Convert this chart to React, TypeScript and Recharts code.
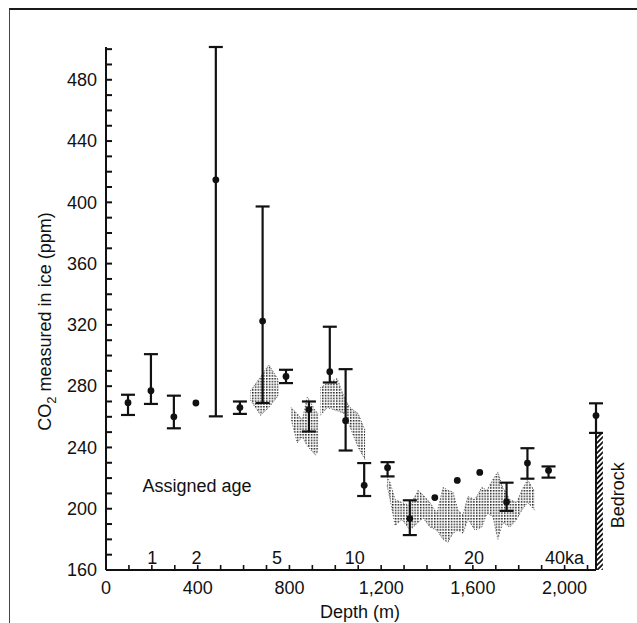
import {
  Area,
  ComposedChart,
  ErrorBar,
  ReferenceArea,
  ReferenceDot,
  ReferenceLine,
  Scatter,
  XAxis,
  YAxis,
} from "recharts";

// depth (m) of each ice sample, CO2 (ppm) and error bar ends
const pointDepth = [96, 196, 296, 392, 479, 584, 683, 785, 885, 976, 1045, 1126, 1228, 1325, 1434, 1532, 1630, 1747, 1838, 1930, 2137];
const pointCO2 = [269.2, 277, 260, 269, 414.7, 266, 322.5, 286.3, 264.7, 289.4, 257.5, 215.3, 226.8, 193.6, 207.3, 218.5, 223.7, 204.4, 229.8, 225, 260.8];
const errHigh = [274.4, 300.9, 273.8, null, 501.4, 270, 397.3, 290.7, 270, 318.8, 291.1, 229.8, 230.4, 205.5, null, null, null, 217, 239.5, 227.6, 268.8];
const errLow = [261.2, 268.4, 252.5, null, 260.3, 261.9, 269, 282, 250.4, 282.4, 238, 208.3, 221.1, 182.8, null, null, null, 198.6, 219.6, 220.3, 249.5];

// stippled band: [depth, low, high]
const bandA = [[630, 271, 277], [674, 261, 286], [710, 266, 294], [752, 274, 284]];
const bandB = [[808, 258, 266], [834, 243, 262], [856, 247, 258], [878, 241, 273], [913, 235, 264], [926, 238, 262]];
const bandC = [[935, 261, 279], [965, 266, 282], [1008, 264, 285], [1043, 262, 271], [1065, 253, 266], [1100, 240, 262], [1130, 232, 251]];
const bandD = [
  [1226, 215, 221], [1239, 206, 217], [1261, 189, 206], [1291, 193, 204], [1326, 186, 202],
  [1361, 191, 212], [1383, 194, 209], [1413, 188, 204], [1443, 186, 197], [1470, 180, 214],
  [1491, 178, 212], [1513, 184, 211], [1535, 186, 199], [1557, 184, 196], [1578, 193, 208],
  [1609, 186, 206], [1639, 188, 214], [1661, 197, 212], [1687, 195, 219], [1709, 180, 224],
  [1730, 191, 214], [1761, 188, 206], [1791, 193, 204], [1813, 199, 212], [1839, 204, 219],
  [1870, 199, 211],
];

const depthTicks = [0, 100, 200, 300, 400, 500, 600, 700, 800, 900, 1000, 1100, 1200, 1300, 1400, 1500, 1600, 1700, 1800, 1900, 2000, 2100];
const co2Ticks = [160, 170, 180, 190, 200, 210, 220, 230, 240, 250, 260, 270, 280, 290, 300, 310, 320, 330, 340, 350, 360, 370, 380, 390, 400, 410, 420, 430, 440, 450, 460, 470, 480, 490, 500];

const annotDepth = [202, 395, 746, 1085, 1605, 2000, 397];
const annotCO2 = [168, 168, 168, 168, 168, 168, 215.3];
const annotText = ["1", "2", "5", "10", "20", "40ka", "Assigned age"];

const bedrockDepth = 2137;
const bedrockTop = 250;
const bedrockLabelAt = { depth: 2232, co2: 208.8 };

const FONT = "'Liberation Sans', Arial, Helvetica, sans-serif";
const INK = "#111";

const points = pointDepth.map((depth, i) => ({
  depth,
  y: pointCO2[i],
  err: errHigh[i] == null ? null : [pointCO2[i] - (errLow[i] as number), (errHigh[i] as number) - pointCO2[i]],
}));
const toBand = (seg: number[][]) => seg.map(([depth, lo, hi]) => ({ depth, range: [lo, hi] }));
const annotations = annotDepth.map((depth, i) => ({ depth, y: annotCO2[i], label: annotText[i] }));

const DepthTick = ({ x, y, payload }: any) => {
  const v = payload.value as number;
  return (
    <g>
      <line x1={x} x2={x} y1={y} y2={y - 5} stroke={INK} strokeWidth={1.6} />
      {v % 400 === 0 && (
        <text x={x} y={y + 24} textAnchor="middle" fontSize={18} fontFamily={FONT} fill={INK}>
          {v.toLocaleString("en-US")}
        </text>
      )}
    </g>
  );
};

const CO2Tick = ({ x, y, payload }: any) => {
  const v = payload.value as number;
  return (
    <g>
      <line x1={x} x2={x + 6} y1={y} y2={y} stroke={INK} strokeWidth={2} />
      {v % 40 === 0 && v <= 480 && (
        <text x={x - 9} y={y} dy="0.35em" textAnchor="end" fontSize={18} fontFamily={FONT} fill={INK}>
          {v}
        </text>
      )}
    </g>
  );
};

const YTitle = ({ viewBox }: any) => {
  const cx = viewBox.x + viewBox.width - 61;
  const cy = viewBox.y + viewBox.height / 2 + 13;
  return (
    <text x={cx} y={cy} textAnchor="middle" fontSize={18} fontFamily={FONT} fill={INK} transform={`rotate(-90 ${cx} ${cy})`} dy="0.35em">
      CO<tspan fontSize={13} dy={5}>2</tspan>
      <tspan dy={-5}> measured in ice (ppm)</tspan>
    </text>
  );
};

const XTitle = ({ viewBox }: any) => (
  <text x={viewBox.x + 254} y={viewBox.y + 48} textAnchor="middle" fontSize={18} fontFamily={FONT} fill={INK}>
    Depth (m)
  </text>
);

const Dot = ({ cx, cy }: any) => <circle cx={cx} cy={cy} r={3.4} fill={INK} />;

const Annotation = ({ cx, cy, payload }: any) => (
  <text x={cx} y={cy} dy="0.35em" textAnchor="middle" fontSize={18} fontFamily={FONT} fill={INK}>
    {payload.label}
  </text>
);

const BedrockLabel = ({ cx, cy }: any) => (
  <text
    x={cx}
    y={cy}
    dy="0.35em"
    textAnchor="middle"
    fontSize={18}
    fontFamily={FONT}
    fill={INK}
    transform={`rotate(-90 ${cx} ${cy})`}
  >
    Bedrock
  </text>
);

export default function App() {
  return (
    <div style={{ position: "absolute", left: 0, top: 0, width: 637, height: 623, overflow: "hidden", background: "#fff" }}>
      <div
        style={{
          position: "absolute",
          left: 9,
          top: 8,
          width: 700,
          height: 700,
          borderTop: "2px solid #1a1a1a",
          borderLeft: "1px solid #444",
        }}
      />
      <div style={{ position: "absolute", left: 0, top: 0 }}>
        <ComposedChart width={637} height={623} margin={{ top: 47, right: 41, bottom: 0, left: 46 }}>
          <defs>
            <pattern id="stipple" width="2.8" height="2.8" patternUnits="userSpaceOnUse">
              <rect x="0" y="0" width="1.5" height="1.5" fill="#1a1a1a" />
            </pattern>
            <pattern id="hatch" width="3.6" height="3.6" patternUnits="userSpaceOnUse" patternTransform="rotate(45)">
              <rect x="0" y="0" width="1.8" height="3.6" fill={INK} />
            </pattern>
          </defs>
          <XAxis
            dataKey="depth"
            type="number"
            domain={[0, bedrockDepth]}
            ticks={depthTicks}
            interval={0}
            height={53}
            tickSize={0}
            tickMargin={0}
            tickLine={false}
            tick={<DepthTick />}
            axisLine={{ stroke: INK, strokeWidth: 2 }}
            label={<XTitle />}
          />
          <YAxis
            dataKey="y"
            type="number"
            domain={[160, 500]}
            ticks={co2Ticks}
            interval={0}
            width={60}
            tickSize={0}
            tickMargin={0}
            tickLine={false}
            tick={<CO2Tick />}
            axisLine={{ stroke: INK, strokeWidth: 2 }}
            label={<YTitle />}
          />
          {[bandA, bandB, bandC, bandD].map((seg, i) => (
            <Area
              key={`band-${i}`}
              data={toBand(seg)}
              dataKey="range"
              type="linear"
              fill="url(#stipple)"
              fillOpacity={1}
              stroke="#555"
              strokeWidth={1}
              strokeDasharray="1 2"
              dot={false}
              activeDot={false}
              isAnimationActive={false}
            />
          ))}
          <ReferenceArea
            x1={bedrockDepth}
            x2={bedrockDepth + 30}
            y1={160}
            y2={bedrockTop}
            fill="url(#hatch)"
            fillOpacity={1}
            stroke="none"
            ifOverflow="visible"
          />
          <ReferenceLine
            segment={[
              { x: bedrockDepth, y: 160 },
              { x: bedrockDepth, y: bedrockTop },
            ]}
            stroke={INK}
            strokeWidth={2}
            ifOverflow="visible"
          />
          <ReferenceDot
            x={bedrockLabelAt.depth}
            y={bedrockLabelAt.co2}
            r={0}
            ifOverflow="visible"
            shape={<BedrockLabel />}
          />
          <Scatter data={points} dataKey="y" shape={<Dot />} isAnimationActive={false}>
            <ErrorBar dataKey="err" direction="y" width={7} stroke={INK} strokeWidth={2.2} isAnimationActive={false} />
          </Scatter>
          <Scatter data={annotations} dataKey="y" shape={<Annotation />} isAnimationActive={false} />
        </ComposedChart>
      </div>
    </div>
  );
}
